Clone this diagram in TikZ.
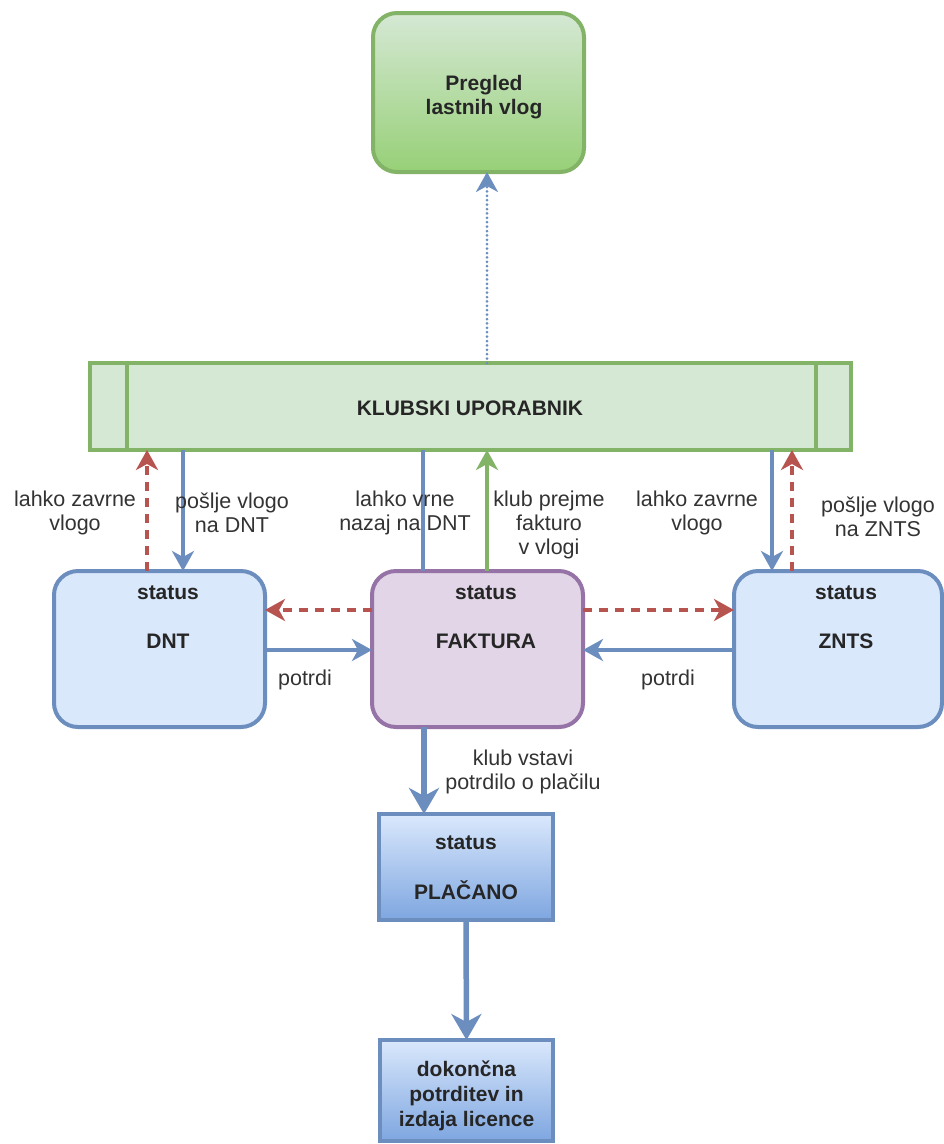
\documentclass[tikz,border=0pt]{standalone}
\usepackage{fontspec}
\setmainfont{Liberation Sans}
\usetikzlibrary{arrows.meta,calc}
\definecolor{blueS}{HTML}{6C8EBF}
\definecolor{blueF}{HTML}{DAE8FC}
\definecolor{blueD}{HTML}{7EA6E0}
\definecolor{greenS}{HTML}{82B366}
\definecolor{greenF}{HTML}{D5E8D4}
\definecolor{greenD}{HTML}{97D077}
\definecolor{purpS}{HTML}{9673A6}
\definecolor{purpF}{HTML}{E1D5E7}
\definecolor{redS}{HTML}{B85450}
\definecolor{txt}{HTML}{333333}
\begin{document}
\begin{tikzpicture}[x=1pt,y=-1pt,
  every node/.style={font=\fontsize{21.5}{24}\selectfont, inner sep=0pt, outer sep=0pt},
  box/.style={draw, line width=4pt, rounded corners=24pt},
  bluebox/.style={box, draw=blueS, fill=blueF},
  btext/.style={font=\fontsize{21}{24}\selectfont\bfseries, text=black!85, align=center},
  lbl/.style={text=txt, align=center},
  tipS/.style={-{Stealth[length=20pt,width=22pt,inset=6pt]}},
  tipL/.style={-{Stealth[length=26pt,width=30pt,inset=8pt]}},
  blueline/.style={draw=blueS, line width=3.5pt},
  redline/.style={draw=redS, line width=3.5pt, dash pattern=on 9pt off 7pt}
]
\useasboundingbox (0,0) rectangle (944,1144);

% boxes
\node[box, draw=greenS, top color=greenF, bottom color=greenD, minimum width=211pt, minimum height=159pt] (preg) at (478.5,92.5) {};
\node[btext] (pregt) at (484,97) {Pregled\\lastnih vlog};

\node[draw=greenS, fill=greenF, line width=4pt, minimum width=761pt, minimum height=87pt] (klub) at (470.5,406.5) {};
\draw[greenS, line width=4pt] ([xshift=37pt]klub.north west) -- ([xshift=37pt]klub.south west);
\draw[greenS, line width=4pt] ([xshift=-35pt]klub.north east) -- ([xshift=-35pt]klub.south east);
\node[btext] (klubt) at (470,408) {KLUBSKI UPORABNIK};

\node[bluebox, minimum width=211pt, minimum height=156pt] (dnt) at (159.5,649) {};
\node[btext] (dnts) at (168,593) {status};
\node[btext] (dntt) at (168,641) {DNT};

\node[box, draw=purpS, fill=purpF, minimum width=211pt, minimum height=156pt] (fak) at (477.5,649) {};
\node[btext] (faks) at (486,593) {status};
\node[btext] (fakt) at (486,641) {FAKTURA};

\node[bluebox, minimum width=208pt, minimum height=156pt] (znts) at (838,649) {};
\node[btext] (zntss) at (846,593) {status};
\node[btext] (zntst) at (846,641) {ZNTS};

\node[draw=blueS, line width=4pt, top color=blueF, bottom color=blueD, minimum width=174pt, minimum height=106pt] (plac) at (466,867) {};
\node[btext] (placs) at (466,843) {status};
\node[btext] (plact) at (466,890) {PLAČANO};

\node[draw=blueS, line width=4pt, top color=blueF, bottom color=blueD, minimum width=173pt, minimum height=101pt] (fin) at (466.5,1090.5) {};
\node[btext, font=\fontsize{21}{25}\selectfont\bfseries] (fint) at (466.5,1096) {dokončna\\potrditev in\\izdaja licence};

% x positions
\coordinate (xa) at (147,0);
\coordinate (xb) at (183,0);
\coordinate (xc) at (423,0);
\coordinate (xd) at (487,0);
\coordinate (xe) at (772,0);
\coordinate (xf) at (792,0);
\coordinate (ya) at (0,610);
\coordinate (yb) at (0,650);
\coordinate (xg) at (424,0);

% dotted arrow
\draw[draw=blueS, line width=3pt, line cap=round, dash pattern=on 0pt off 4.4pt, tipS] (klub.north -| xd) -- (preg.south -| xd);

% DNT connectors
\draw[redline, tipS] (dnt.north -| xa) -- (klub.south -| xa);
\draw[blueline, tipS] (klub.south -| xb) -- (dnt.north -| xb);
% middle
\draw[blueline] (fak.north -| xc) -- (klub.south -| xc);
\draw[draw=greenS, line width=3.5pt, tipS] (fak.north -| xd) -- (klub.south -| xd);
% ZNTS
\draw[blueline, tipS] (klub.south -| xe) -- (znts.north -| xe);
\draw[redline, tipS] (znts.north -| xf) -- (klub.south -| xf);
% horizontal
\draw[redline, tipS] (fak.west |- ya) -- (dnt.east |- ya);
\draw[redline, tipS] (fak.east |- ya) -- (znts.west |- ya);
\draw[blueline, tipS] (dnt.east |- yb) -- (fak.west |- yb);
\draw[blueline, tipS] (znts.west |- yb) -- (fak.east |- yb);
% down
\draw[blueline, line width=5.5pt, tipL] (fak.south -| xg) -- (plac.north -| xg);
\draw[blueline, line width=5.5pt, tipL] (plac.south) -- (fin.north);

% labels
\node[lbl] (l1) at (75,513) {lahko zavrne\\vlogo};
\node[lbl] (l2) at (232,513) {pošlje vlogo\\na DNT};
\node[lbl] (l3) at (405,513) {lahko vrne\\nazaj na DNT};
\node[lbl] (l4) at (549,525) {klub prejme\\fakturo\\v vlogi};
\node[lbl] (l5) at (697,513) {lahko zavrne\\vlogo};
\node[lbl] (l6) at (878,517) {pošlje vlogo\\na ZNTS};
\node[lbl] (l7) at (305,680) {potrdi};
\node[lbl] (l8) at (668,680) {potrdi};
\node[lbl] (l9) at (523,772) {klub vstavi\\potrdilo o plačilu};
\end{tikzpicture}
\end{document}
